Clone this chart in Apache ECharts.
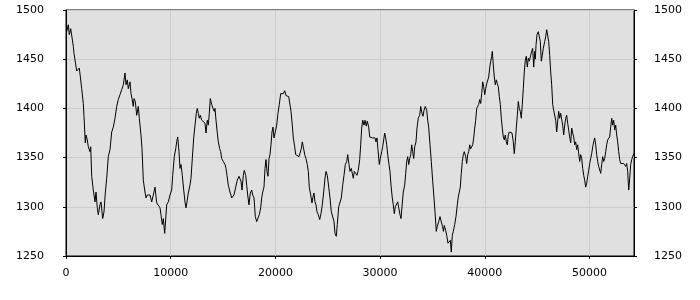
<!DOCTYPE html>
<html><head><meta charset="utf-8">
<script src="https://cdn.jsdelivr.net/npm/echarts@6/dist/echarts.min.js"></script>
<style>html,body{margin:0;padding:0;background:#fff}#c{width:700px;height:300px}</style>
</head><body><div id="c"></div>
<script>
const xTicks = [0, 10000, 20000, 30000, 40000, 50000];
const yTicks = [1250, 1300, 1350, 1400, 1450, 1500];
const xs = [70,220,315,450,700,764,955,1022,1270,1500,1652,1719,1843,1910,2034,2130,2292,2359,2455,2607,2770,2865,2990,3085,3247,3343,3505,3629,3754,3887,4040,4202,4365,4518,4680,4842,4995,5158,
5320,5473,5635,5731,5855,5950,6113,6208,6304,6428,6495,6619,6753,6906,7001,7163,7259,7383,7545,7641,7765,7861,8023,8185,8338,8500,
8663,8815,8978,9073,9197,9293,9427,9618,9771,9933,10095,10191,10344,10478,10573,10669,10793,10888,10984,11108,11242,11366,11461,11557,11681,11843,11939,12063,12197,12321,12445,12540,12636,12731,12827,12961,13114,13276,13372,13496,13592,13687,13783,13916,14040,14165,14231,14327,14451,14546,14680,14776,14871,15024,15186,15282,15377,15501,15664,15826,15922,16046,16208,16361,16523,16647,16714,16810,16934,17029,17163,17259,17354,17478,17603,17736,17832,17956,18023,18080,18214,18338,18462,18596,18691,18787,18911,19007,19102,19198,19293,19389,19484,19580,19675,19771,19866,19990,20124,20248,20372,20506,20630,20754,20888,21012,21137,21271,21394,21490,21614,21710,21843,21939,22092,22254,22378,22474,22569,22665,22799,22922,23046,23142,23237,23371,23495,23591,23686,23782,23877,23973,24097,24231,24355,24479,24613,24737,24833,24957,25091,25215,25339,25473,25597,25692,25816,25912,26046,26170,26294,26428,26552,26676,26810,26905,27029,27125,27249,27344,27440,27535,27669,27793,27917,28051,28147,28242,28338,28462,28557,28681,28777,28911,29006,29130,29254,29388,29512,29608,29703,29799,29923,30018,30152,30248,30343,30439,30534,30630,30725,30849,30945,31040,31164,31260,31356,31451,31585,31681,31805,31900,31996,32091,32215,32349,32445,32540,32636,32731,32827,32922,33018,33113,33209,33304,33429,33524,33648,33782,33878,34002,34097,34193,34317,34451,34546,34642,34766,34890,35024,35148,35243,35367,35463,35597,35721,35845,35960,36055,36131,36265,36361,36485,36609,36705,36800,36896,36991,37125,37249,37373,37469,37564,37660,37755,37851,37946,38042,38176,38271,38367,38462,38558,38653,38749,38844,38940,39035,39131,39226,39322,39417,39513,39608,39704,39799,39895,39990,40086,40181,40277,40372,40468,40563,40659,40716,40812,40907,41003,41098,41194,41289,41385,41480,41576,41671,41767,41862,41958,42053,42149,42244,42340,42474,42598,42722,42817,42913,43008,43104,43199,43295,43390,43486,43581,43677,43772,43868,43963,44059,44154,44250,44384,44479,44575,44670,44766,44823,44890,44985,45109,45205,45300,45396,45491,45587,45721,45816,45912,46007,46103,46198,46294,46389,46485,46580,46676,46771,46867,46962,47058,47153,47249,47344,47440,47535,47631,47726,47822,47917,48013,48108,48204,48299,48395,48490,48586,48681,48777,48872,48968,49063,49159,49254,49350,49445,49541,49636,49732,49827,49923,50018,50114,50209,50305,50400,50496,50591,50687,50782,50878,50973,51069,51164,51260,51355,51451,51546,51642,51737,51833,51928,52024,52119,52215,52310,52406,52501,52597,52692,52788,52883,52979,53074,53170,53265,53361,53456,53552,53647,53743,53838,53934,54029,54125,54220];
const ys = [1478,1485,1475,1481,1463,1456,1456,1438,1441,1420,1405,1392,1365,1373,1368,1361,1356,1361,1331,1317,1305,1315,1299,1292,1302,1305,1288,1295,1314,1329,1351,1358,1376,1381,1390,1402,1409,1414,
1419,1424,1436,1424,1429,1420,1427,1415,1410,1402,1410,1407,1393,1402,1390,1373,1359,1327,1315,1309,1312,1310,1312,1305,1312,1320,
1304,1302,1299,1292,1282,1288,1273,1302,1305,1312,1317,1332,1351,1359,1366,1371,1356,1339,1343,1332,1317,1305,1299,1305,1314,1322,1329,1349,1370,1383,1395,1400,1395,1390,1393,1388,1387,1385,1375,1388,1383,1395,1410,1404,1400,1397,1400,1388,1375,1366,1359,1356,1349,1346,1343,1339,1332,1322,1315,1309,1307,1312,1320,1327,1331,1332,1326,1317,1332,1337,1332,1322,1312,1302,1314,1317,1312,1309,1299,1290,1285,1287,1292,1299,1309,1315,1320,1339,1348,1336,1331,1349,1353,1363,1376,1381,1370,1376,1383,1395,1404,1415,1417,1415,1418,1413,1414,1412,1410,1397,1383,1370,1361,1353,1351,1351,1349,1359,1366,1361,1353,1349,1343,1336,1320,1312,1304,1310,1314,1305,1302,1295,1292,1287,1293,1302,1315,1329,1336,1332,1320,1309,1295,1293,1285,1273,1270,1282,1300,1302,1309,1322,1332,1343,1346,1353,1343,1336,1339,1334,1329,1336,1334,1332,1337,1348,1363,1380,1388,1383,1388,1382,1387,1381,1371,1371,1370,1368,1370,1366,1370,1358,1343,1349,1356,1361,1363,1375,1370,1363,1353,1343,1336,1322,1309,1302,1293,1300,1302,1305,1304,1292,1288,1300,1315,1322,1334,1346,1351,1343,1349,1353,1363,1356,1349,1361,1366,1380,1390,1393,1402,1395,1392,1398,1402,1398,1388,1381,1363,1346,1326,1309,1295,1275,1280,1285,1290,1288,1280,1275,1281,1276,1271,1263,1261,1266,1254,1271,1275,1282,1290,1302,1310,1315,1320,1334,1346,1353,1356,1351,1344,1353,1356,1363,1359,1358,1363,1370,1380,1388,1400,1398,1404,1409,1405,1415,1427,1422,1414,1420,1425,1427,1432,1441,1448,1453,1458,1444,1432,1424,1429,1425,1422,1412,1404,1390,1380,1371,1368,1373,1366,1363,1373,1376,1378,1375,1366,1354,1366,1380,1393,1407,1400,1397,1390,1404,1420,1437,1449,1453,1442,1451,1448,1454,1458,1461,1442,1458,1450,1464,1475,1478,1480,1468,1448,1454,1461,1468,1473,1480,1481,1468,1454,1437,1424,1404,1398,1397,1388,1376,1387,1397,1390,1395,1393,1383,1373,1383,1390,1393,1385,1378,1371,1365,1380,1375,1371,1363,1366,1358,1363,1354,1346,1353,1349,1339,1332,1327,1320,1324,1331,1337,1344,1349,1354,1361,1366,1370,1363,1353,1346,1341,1339,1334,1343,1351,1346,1349,1356,1363,1368,1366,1371,1381,1390,1383,1388,1378,1383,1373,1366,1356,1348,1344,1345,1346,1344,1343,1341,1344,1336,1317,1329,1343,1348,1351,1354];

const chart = echarts.init(document.getElementById('c'), null, {renderer: 'canvas'});
const font = {fontFamily: 'DejaVu Sans', fontSize: 11, color: '#000', formatter: function (v) { return String(v); }};
const yAxisBase = {
  type: 'value', min: yTicks[0], max: yTicks[yTicks.length - 1], interval: 50,
  axisLine: {show: true, lineStyle: {color: '#000', width: 1}},
  axisTick: {show: true, length: 3, lineStyle: {color: '#000'}},
  splitLine: {show: false}
};
chart.setOption({
  animation: false,
  backgroundColor: '#ffffff',
  grid: {left: 66, right: 66, top: 10, bottom: 44, show: true, backgroundColor: '#e0e0e0', borderColor: '#000', borderWidth: 1},
  xAxis: {
    type: 'value', min: xTicks[0], max: 54250, interval: 10000,
    axisLine: {show: true, onZero: false, lineStyle: {color: '#000'}},
    axisTick: {show: true, length: 3, lineStyle: {color: '#000'}},
    axisLabel: Object.assign({margin: 12, showMaxLabel: false}, font),
    splitLine: {show: true, lineStyle: {color: '#cccccc', width: 1}}
  },
  yAxis: [
    Object.assign({}, yAxisBase, {position: 'left', axisLabel: Object.assign({margin: 22}, font),
      splitLine: {show: true, lineStyle: {color: '#cccccc', width: 1}}}),
    Object.assign({}, yAxisBase, {position: 'right', axisLabel: Object.assign({margin: 20}, font)})
  ],
  series: [{
    type: 'line', yAxisIndex: 0, showSymbol: false, symbol: 'none',
    lineStyle: {color: '#000', width: 1},
    data: xs.map((x, i) => [x, ys[i]])
  }]
});
</script></body></html>
